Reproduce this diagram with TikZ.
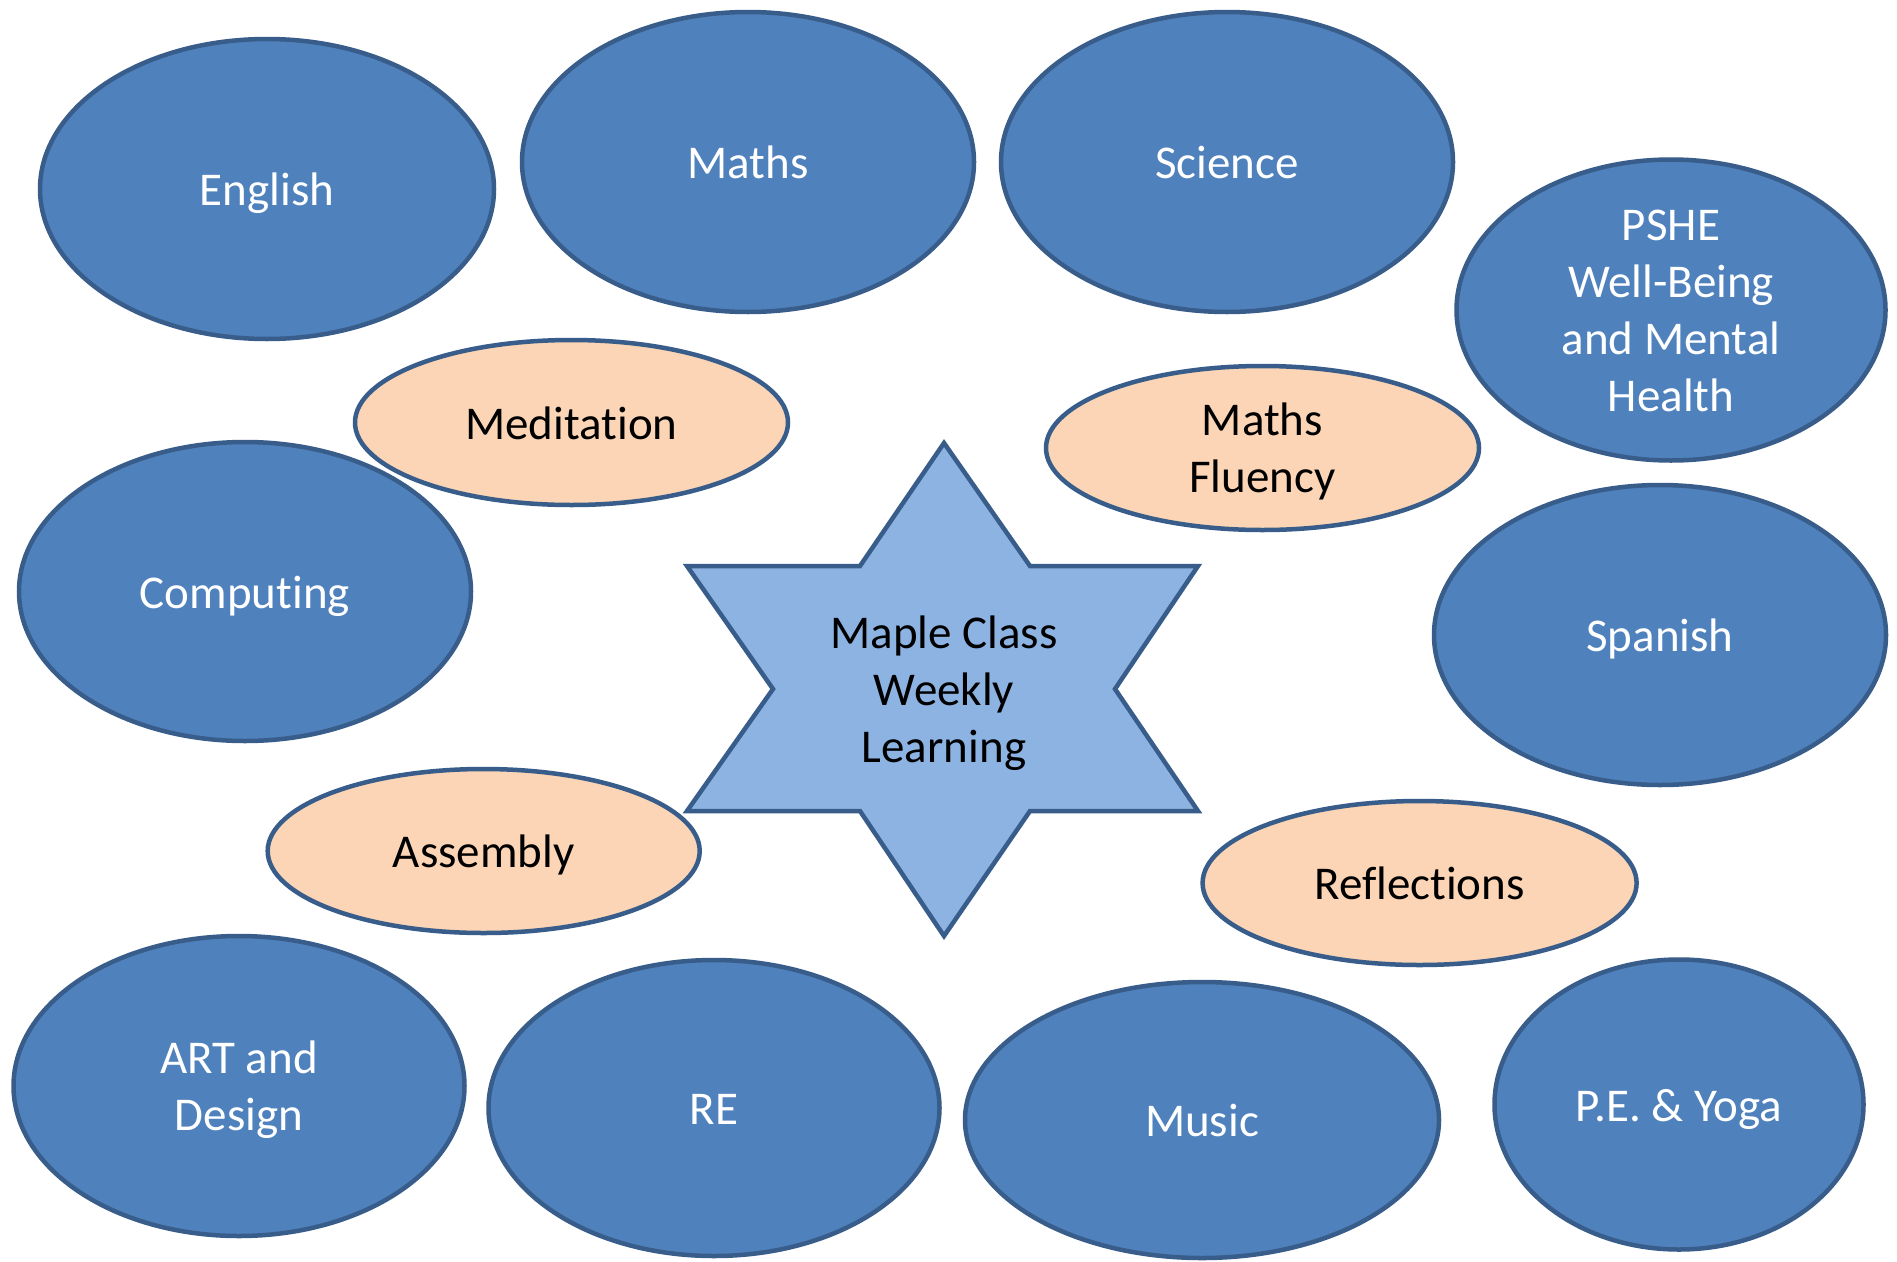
\documentclass[tikz,border=0pt]{standalone}
\usepackage{fontspec}
\setmainfont{Carlito}[Ligatures=NoCommon]
\usetikzlibrary{shapes.geometric}
\definecolor{blfill}{HTML}{4F81BD}
\definecolor{bldraw}{HTML}{385D8A}
\definecolor{pcfill}{HTML}{FBD5B5}
\definecolor{stfill}{HTML}{8DB3E2}
\newcommand\mystrut{\rule[-10pt]{0pt}{51pt}}
\begin{document}
\begin{tikzpicture}[x=1pt,y=-1pt,
  subj/.style={ellipse, draw=bldraw, fill=blfill, line width=4.5pt, inner sep=0pt, outer sep=0pt},
  extra/.style={ellipse, draw=bldraw, fill=pcfill, line width=4.5pt, inner sep=0pt, outer sep=0pt},
  lbl/.style={font=\fontsize{47}{57}\selectfont, align=center, inner sep=0pt,
    execute at begin node=\mystrut, execute at end node=\mystrut},
  wlbl/.style={lbl, text=white},
  klbl/.style={lbl, text=black},
  starline/.style={draw=bldraw, fill=stfill, line width=4.5pt}]
\fill[white] (0,0) rectangle (1897,1261);
\useasboundingbox (0,0) rectangle (1897,1261);

% blue subject ellipses
\node[subj, minimum width=454pt, minimum height=300pt] (eng) at (267,189) {};
\node[subj, minimum width=452pt, minimum height=300pt] (maths) at (748,162) {};
\node[subj, minimum width=452pt, minimum height=300pt] (sci) at (1227,162) {};
\node[subj, minimum width=429pt, minimum height=301pt] (pshe) at (1671,310) {};
\node[subj, minimum width=452pt, minimum height=299pt] (comp) at (245,591.5) {};
\node[subj, minimum width=452pt, minimum height=300pt] (span) at (1660,635) {};
\node[subj, minimum width=451pt, minimum height=300pt] (art) at (239,1086) {};
\node[subj, minimum width=451pt, minimum height=296pt] (re) at (714,1108) {};
\node[subj, minimum width=474pt, minimum height=276pt] (music) at (1202,1120) {};
\node[subj, minimum width=369pt, minimum height=290pt] (pe) at (1679,1104.5) {};

\node[wlbl] (eng-t) at ([yshift=-1pt]eng.center) {English};
\node[wlbl] (maths-t) at ([yshift=-1pt]maths.center) {Maths};
\node[wlbl] (sci-t) at ([yshift=-1pt]sci.center) {Science};
\node[wlbl] (pshe-t) at ([yshift=-6pt]pshe.center) {PSHE\\Well-Being\\and Mental\\Health};
\node[wlbl] (comp-t) at ([yshift=-1pt]comp.center) {Computing};
\node[wlbl] (span-t) at ([yshift=-1pt]span.center) {Spanish};
\node[wlbl] (art-t) at ([yshift=-5pt]art.center) {ART and\\Design};
\node[wlbl] (re-t) at ([yshift=-1pt]re.center) {RE};
\node[wlbl] (music-t) at ([yshift=-1pt]music.center) {Music};
\node[wlbl] (pe-t) at ([yshift=-1pt]pe.center) {P.E. \& Yoga};

% peach extra ellipses
\node[extra, minimum width=433pt, minimum height=165pt] (med) at (571.5,422.5) {};
\node[extra, minimum width=433pt, minimum height=164pt] (mf) at (1262.5,448) {};
\node[extra, minimum width=432pt, minimum height=164pt] (asm) at (483.7,851) {};
\node[extra, minimum width=434pt, minimum height=164pt] (refl) at (1419.6,883) {};

\node[klbl] (med-t) at ([yshift=-1pt]med.center) {Meditation};
\node[klbl] (mf-t) at ([yshift=-5pt]mf.center) {Maths\\Fluency};
\node[klbl] (asm-t) at ([yshift=-1pt]asm.center) {Assembly};
\node[klbl] (refl-t) at ([yshift=-1pt]refl.center) {Reflections};

% central six-pointed star
\coordinate (s1) at (944,443);
\coordinate (s2) at (1030,566);
\coordinate (s3) at (1198,566);
\coordinate (s4) at (1115,689);
\coordinate (s5) at (1198,811);
\coordinate (s6) at (1030,811);
\coordinate (s7) at (944,936);
\coordinate (s8) at (860,811);
\coordinate (s9) at (687,811);
\coordinate (s10) at (773,689);
\coordinate (s11) at (687,566);
\coordinate (s12) at (860,566);
\draw[starline] (s1) -- (s2) -- (s3) -- (s4) -- (s5) -- (s6) -- (s7) -- (s8) -- (s9) -- (s10) -- (s11) -- (s12) -- cycle;
\node[klbl] (star-t) at (944,694.5) {Maple Class\\Weekly\\Learning};
\end{tikzpicture}
\end{document}
